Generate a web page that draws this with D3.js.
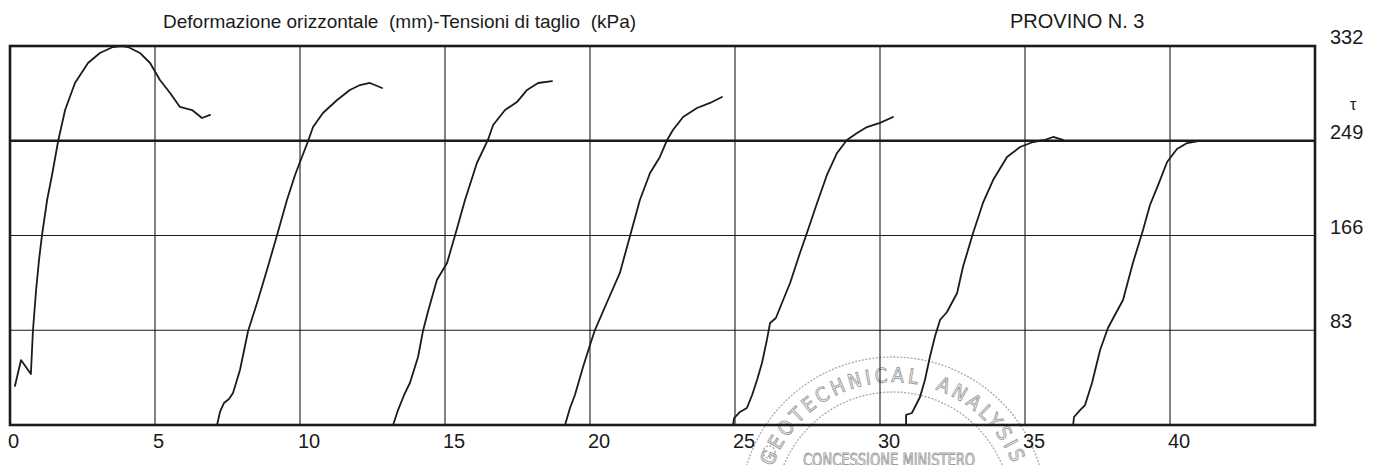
<!DOCTYPE html>
<html>
<head>
<meta charset="utf-8">
<script src="https://cdn.jsdelivr.net/npm/d3@7"></script>
<style>
	body { margin: 0; background: #fff; }
	svg { display: block; font-family: 'Liberation Sans', Arial, sans-serif; }
</style>
</head>
<body>
<svg id="chart" width="1385" height="465"></svg>
<script>
const title = 'Deformazione orizzontale  (mm)-Tensioni di taglio  (kPa)'
const specimen = 'PROVINO N. 3'
const yLabel = 'τ'
const xTicks = [0, 5, 10, 15, 20, 25, 30, 35, 40]
const yTicks = [83, 166, 249, 332]
const xMax = 45
const yMax = 332
const refLevel = 249

// [deformazione mm, tau kPa]
const run1 = [[0.17,34.2],[0.38,56.9],[0.72,44.7],[0.79,82.3],[0.90,118.3],[1.00,144.5],[1.10,165.6],[1.28,197.1],[1.45,219.0],[1.66,248.8],[1.90,275.9],[2.24,299.6],[2.69,317.1],[3.10,325.9],[3.55,331.1],[3.86,332.0],[4.07,331.1],[4.48,325.9],[4.83,317.1],[5.17,302.2],[5.52,290.8],[5.86,278.6],[6.28,275.9],[6.62,268.9],[6.90,271.6]]
const run2 = [[7.14,0],[7.24,11.4],[7.38,19.3],[7.55,22.8],[7.69,28.0],[7.93,48.2],[8.21,82.3],[8.55,109.5],[8.86,135.8],[9.21,166.4],[9.55,197.1],[9.83,219.0],[10.00,230.4],[10.28,248.8],[10.45,261.0],[10.79,273.3],[11.28,284.7],[11.72,293.5],[12.07,297.8],[12.41,299.6],[12.83,295.2]]
const run3 = [[13.21,0],[13.38,13.1],[13.59,26.3],[13.79,36.8],[14.07,59.6],[14.24,82.3],[14.41,99.0],[14.72,127.0],[15.07,141.9],[15.34,165.6],[15.69,197.1],[16.10,229.5],[16.48,249.7],[16.66,262.8],[17.07,275.9],[17.48,282.9],[17.83,293.5],[18.21,299.6],[18.69,301.3]]
const run4 = [[19.14,0],[19.31,14.9],[19.48,26.3],[19.76,50.8],[20.00,70.1],[20.17,83.2],[20.62,109.5],[21.03,133.2],[21.38,165.6],[21.72,197.1],[22.07,220.7],[22.41,234.8],[22.66,249.7],[22.86,258.4],[23.21,269.8],[23.69,277.7],[24.14,282.1],[24.55,287.3]]
const run5 = [[24.93,0],[24.97,6.1],[25.17,11.4],[25.41,14.9],[25.59,26.3],[25.76,39.4],[25.93,54.3],[26.10,74.5],[26.21,89.4],[26.41,93.7],[26.66,109.5],[26.90,124.4],[27.24,150.7],[27.48,168.2],[27.83,194.5],[28.17,219.0],[28.52,238.3],[28.86,249.7],[29.21,255.8],[29.55,261.0],[30.00,264.6],[30.45,269.8]]
const run6 = [[30.90,0],[30.90,8.8],[31.10,10.5],[31.38,24.5],[31.55,39.4],[31.72,59.6],[31.90,78.0],[32.07,92.0],[32.31,99.0],[32.66,115.6],[32.86,138.4],[33.21,168.2],[33.55,194.5],[33.90,214.6],[34.38,234.8],[34.83,243.5],[35.28,247.9],[35.69,249.7],[35.97,252.3],[36.31,249.7]]
const run7 = [[36.66,0],[36.69,7.0],[36.90,13.1],[37.07,17.5],[37.31,36.8],[37.59,65.7],[37.86,85.0],[38.10,96.4],[38.38,109.5],[38.72,141.9],[39.07,170.8],[39.31,192.7],[39.59,210.2],[39.90,230.4],[40.24,241.8],[40.59,247.0],[41.03,248.8]]
const runs = [run1, run2, run3, run4, run5, run6, run7]

const stampRing = 'GEOTECHNICAL ANALYSIS'
const stampCenter = 'CONCESSIONE MINISTERO'

const svg = d3.select('#chart')
const plotLeft = 10, plotRight = 1315, plotTop = 46, plotBottom = 425
const ink = '#1b1b1b'

const x = d3.scaleLinear().domain([0, xMax]).range([plotLeft, plotRight])
const y = d3.scaleLinear().domain([0, yMax]).range([plotBottom, plotTop])

svg.append('rect').attr('width', 1385).attr('height', 465).attr('fill', '#fff')

// faded stamp behind the plot
const stamp = svg.append('g').attr('fill', 'none').attr('stroke', '#a9a9a9')
	.attr('stroke-width', 1.3).attr('stroke-dasharray', '2,1.5')
stamp.append('circle').attr('cx', 893).attr('cy', 510).attr('r', 153)
stamp.append('circle').attr('cx', 893).attr('cy', 510).attr('r', 118)
stamp.append('circle').attr('cx', 769).attr('cy', 452).attr('r', 6)
const ringR = 128
svg.append('path').attr('id', 'ring').attr('fill', 'none')
	.attr('transform', 'translate(893,510)')
	.attr('d', `M${-ringR},0 A${ringR},${ringR} 0 1 1 0,${ringR}`)
svg.append('text')
	.attr('fill', 'none').attr('stroke', '#9a9a9a').attr('stroke-width', 0.9)
	.attr('font-family', "'DejaVu Sans Condensed', 'Liberation Sans Narrow', sans-serif")
	.attr('font-size', 20).attr('letter-spacing', 3.6).attr('word-spacing', 6)
	.append('textPath').attr('href', '#ring').attr('startOffset', 44)
	.text(stampRing)
svg.append('text')
	.attr('x', 803).attr('y', 466)
	.attr('fill', 'none').attr('stroke', '#9a9a9a').attr('stroke-width', 0.9)
	.attr('font-family', "'DejaVu Sans Condensed', sans-serif")
	.attr('font-size', 17).attr('textLength', 172).attr('lengthAdjust', 'spacingAndGlyphs')
	.text(stampCenter)

// grid
svg.append('g').selectAll('line').data(xTicks.filter(d => d > 0)).join('line')
	.attr('x1', d => x(d)).attr('x2', d => x(d)).attr('y1', plotTop).attr('y2', plotBottom)
	.attr('stroke', ink).attr('stroke-width', 1.1)
svg.append('g').selectAll('line').data(yTicks.filter(d => d < yMax)).join('line')
	.attr('x1', plotLeft).attr('x2', plotRight).attr('y1', d => y(d)).attr('y2', d => y(d))
	.attr('stroke', ink).attr('stroke-width', d => d == refLevel ? 2.6 : 1.1)

svg.append('rect')
	.attr('x', plotLeft).attr('y', plotTop).attr('width', plotRight - plotLeft).attr('height', plotBottom - plotTop)
	.attr('fill', 'none').attr('stroke', ink).attr('stroke-width', 2.6)

// curves
const line = d3.line().x(d => x(d[0])).y(d => y(d[1]))
svg.append('g').selectAll('path').data(runs).join('path')
	.attr('d', line)
	.attr('fill', 'none').attr('stroke', ink).attr('stroke-width', 1.8)
	.attr('stroke-linejoin', 'round').attr('stroke-linecap', 'round')

// labels
svg.append('g').selectAll('text').data(xTicks).join('text')
	.attr('x', d => x(d) - 2).attr('y', 448)
	.attr('font-size', 20).attr('fill', ink)
	.text(d => d)
svg.append('g').selectAll('text').data(yTicks).join('text')
	.attr('x', 1330).attr('y', d => y(d) - 2)
	.attr('font-size', 20).attr('fill', ink)
	.text(d => d)
svg.append('text').attr('x', 1350).attr('y', 110)
	.attr('font-size', 16).attr('fill', ink).text(yLabel)

svg.append('text').attr('x', 163).attr('y', 28)
	.attr('font-size', 19).attr('fill', ink).style('white-space', 'pre')
	.text(title)
svg.append('text').attr('x', 1010).attr('y', 28)
	.attr('font-size', 20).attr('fill', ink)
	.text(specimen)
</script>
</body>
</html>
